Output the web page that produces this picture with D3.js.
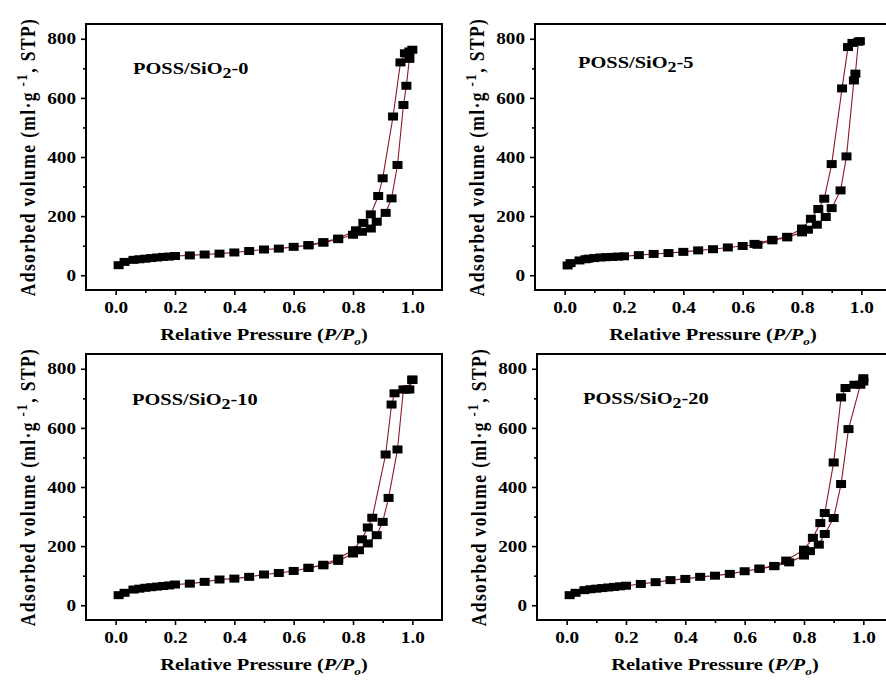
<!DOCTYPE html>
<html>
<head>
<meta charset="utf-8">
<script src="https://cdn.jsdelivr.net/npm/d3@7"></script>
<style>
body { margin: 0; background: #fff; }
text { font-family: "Liberation Serif", "Times New Roman", serif; font-weight: bold; }
</style>
</head>
<body>
<script>
// isotherm data, P/Po vs volume
var adsP_0 = [0.01,0.03,0.06,0.08,0.1,0.12,0.14,0.16,0.18,0.2,0.25,0.3,0.35,0.4,0.45,0.5,0.55,0.6,0.65,0.7,0.75,0.8,0.83,0.86,0.88,0.91,0.93,0.95,0.97,0.98,0.99,1.0];
var adsV_0 = [34,45,52,54,56,58,60,62,63,65,67,70,73,77,82,87,90,96,101,110,122,137,147,158,181,211,260,373,576,641,732,763];
var desP_0 = [0.99,0.975,0.96,0.935,0.9,0.885,0.86,0.835,0.81,0.75,0.7,0.65];
var desV_0 = [757,751,720,537,328,268,206,177,152,124,112,102];

var adsP_5 = [0.01,0.02,0.05,0.07,0.08,0.1,0.12,0.14,0.16,0.18,0.2,0.25,0.3,0.35,0.4,0.45,0.5,0.55,0.6,0.65,0.7,0.75,0.8,0.82,0.85,0.88,0.9,0.93,0.95,0.975,0.98,0.99];
var adsV_5 = [33,41,50,54,56,58,60,61,62,63,64,68,72,75,79,84,88,94,99,103,118,128,145,154,171,197,227,287,402,659,682,790];
var desP_5 = [0.995,0.97,0.955,0.935,0.9,0.875,0.855,0.83,0.8,0.75,0.7,0.64];
var desV_5 = [792,786,772,632,376,259,224,191,158,130,120,106];

var adsP_10 = [0.01,0.03,0.06,0.08,0.1,0.12,0.14,0.16,0.18,0.2,0.25,0.3,0.35,0.4,0.45,0.5,0.55,0.6,0.65,0.7,0.75,0.8,0.82,0.85,0.88,0.9,0.92,0.95,0.97,0.99,1.0];
var adsV_10 = [34,42,53,56,59,61,63,65,67,70,73,79,87,90,96,104,109,116,126,135,150,175,186,209,237,282,363,527,730,730,762];
var desP_10 = [1.0,0.98,0.94,0.93,0.91,0.865,0.85,0.83,0.8,0.75,0.7,0.65];
var desV_10 = [764,730,717,679,510,296,263,223,186,158,137,127];

var adsP_20 = [0.01,0.03,0.06,0.08,0.1,0.12,0.14,0.16,0.18,0.2,0.25,0.3,0.35,0.4,0.45,0.5,0.55,0.6,0.65,0.7,0.75,0.8,0.82,0.85,0.87,0.9,0.925,0.95,0.99,1.0];
var adsV_20 = [34,42,51,54,56,58,60,62,64,66,72,78,85,89,96,100,106,115,123,132,145,168,183,205,241,295,410,596,746,757];
var desP_20 = [1.0,0.97,0.94,0.925,0.9,0.87,0.855,0.83,0.8,0.74,0.7,0.65];
var desV_20 = [768,746,735,703,483,312,278,228,188,151,133,124];

var sampleTags = ["0", "5", "10", "20"];
var xTicks = [0, 0.2, 0.4, 0.6, 0.8, 1.0];
var xMinor = [0.1, 0.3, 0.5, 0.7, 0.9];
var yTicks = [0, 200, 400, 600, 800];
var yMinor = [100, 300, 500, 700];

var samples = [
  {ads: d3.zip(adsP_0, adsV_0), des: d3.zip(desP_0, desV_0)},
  {ads: d3.zip(adsP_5, adsV_5), des: d3.zip(desP_5, desV_5)},
  {ads: d3.zip(adsP_10, adsV_10), des: d3.zip(desP_10, desV_10)},
  {ads: d3.zip(adsP_20, adsV_20), des: d3.zip(desP_20, desV_20)}
];

// layout
var width = 886, height = 680;
var pw = 356, ph = 266;
var sx = 1.2; // the figure is stretched sideways
var panelLeft = [86, 535, 86, 537];
var panelTop = [24, 24, 354, 354];
var tagX = [47, 43, 46, 46];
var tagY = [50, 44, 51, 50];

var svg = d3.select("body").append("svg")
  .attr("width", width)
  .attr("height", height);

samples.forEach(function (s, i) {
  var g = svg.append("g")
    .attr("transform", "translate(" + panelLeft[i] + "," + panelTop[i] + ")");

  var x = d3.scaleLinear().domain([-0.1, 1.1]).range([0, pw]);
  var y = d3.scaleLinear().domain([-50, 850]).range([ph, 0]);

  // minor ticks
  g.append("g")
    .attr("transform", "translate(0," + ph + ")")
    .call(d3.axisBottom(x).tickValues(xMinor).tickSize(3).tickSizeOuter(0).tickFormat(""));
  g.append("g")
    .call(d3.axisLeft(y).tickValues(yMinor).tickSize(3).tickSizeOuter(0).tickFormat(""));

  // major ticks
  var xa = g.append("g")
    .attr("transform", "translate(0," + ph + ")")
    .call(d3.axisBottom(x).tickValues(xTicks).tickSize(5).tickSizeOuter(0).tickFormat(d3.format(".1f")));
  xa.selectAll("text")
    .attr("y", 11.6)
    .attr("font-size", 16)
    .attr("transform", "scale(" + sx + ",1)");

  var ya = g.append("g")
    .call(d3.axisLeft(y).tickValues(yTicks).tickSize(5).tickSizeOuter(0));
  ya.selectAll("text")
    .attr("x", -10 / sx)
    .attr("font-size", 16)
    .attr("transform", "scale(" + sx + ",1)");

  g.selectAll(".domain").remove();
  g.selectAll(".tick line").attr("stroke-width", 1.6);

  // frame
  g.append("rect")
    .attr("width", pw)
    .attr("height", ph)
    .attr("fill", "none")
    .attr("stroke", "#000")
    .attr("stroke-width", 2);

  var line = d3.line()
    .x(function (d) { return x(d[0]); })
    .y(function (d) { return y(d[1]); });

  [s.ads, s.des].forEach(function (pts) {
    g.append("path")
      .attr("d", line(pts))
      .attr("fill", "none")
      .attr("stroke", "#8b1a24")
      .attr("stroke-width", 1.1);
  });

  [s.ads, s.des].forEach(function (pts) {
    g.selectAll(null)
      .data(pts)
      .enter()
      .append("rect")
      .attr("x", function (d) { return x(d[0]) - 5; })
      .attr("y", function (d) { return y(d[1]) - 4; })
      .attr("width", 10)
      .attr("height", 8)
      .attr("fill", "#000");
  });

  // sample tag
  var t = g.append("text")
    .attr("transform", "translate(" + tagX[i] + "," + tagY[i] + ") scale(" + sx + ",1)")
    .attr("font-size", 17);
  t.append("tspan").text("POSS/SiO");
  t.append("tspan").attr("dy", 4).attr("font-size", 15).text("2");
  t.append("tspan").attr("dy", -4).text("-" + sampleTags[i]);

  // y label
  var yl = g.append("text")
    .attr("transform", "translate(-51," + (ph / 2) + ") scale(" + sx + ",1) rotate(-90)")
    .attr("text-anchor", "middle")
    .attr("font-size", 17.5)
    .attr("letter-spacing", 1.4);
  yl.append("tspan").text("Adsorbed volume (ml·g");
  yl.append("tspan").attr("dy", -7).attr("font-size", 13).text(" -1");
  yl.append("tspan").attr("dy", 7).text(", STP)");

  // x label
  var xl = g.append("text")
    .attr("transform", "translate(" + (pw / 2) + "," + (ph + 50) + ") scale(" + sx + ",1)")
    .attr("text-anchor", "middle")
    .attr("font-size", 17);
  xl.append("tspan").text("Relative Pressure (");
  xl.append("tspan").attr("font-style", "italic").text("P/P");
  xl.append("tspan").attr("font-style", "italic").attr("font-size", 11).attr("dy", 5).text("o");
  xl.append("tspan").attr("dy", -5).text(")");
});
</script>
</body>
</html>
